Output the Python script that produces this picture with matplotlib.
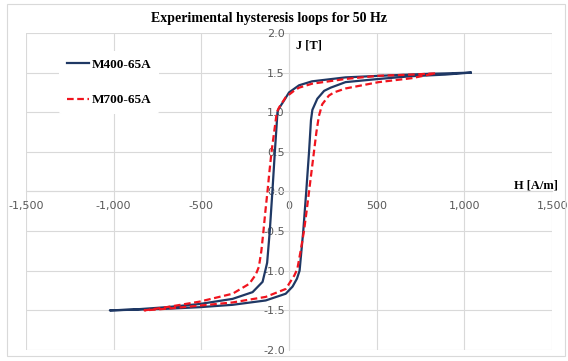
import matplotlib.pyplot as plt
from matplotlib.patches import Rectangle

# M400-65A loop: upper branch (from +tip down) then lower branch (back up)
h_m400 = [1035, 890, 795, 520, 322, 131, 57, 0, -28, -47, -60, -66, -81, -95, -110,
          -125, -133, -151, -208, -322, -511, -700, -890, -1022,
          -700, -511, -322, -133, -19, 20, 45, 60, 81, 98, 114, 125, 133, 161, 200,
          237, 322, 511, 700, 890, 1035]
j_m400 = [1.50, 1.49, 1.485, 1.46, 1.44, 1.39, 1.34, 1.25, 1.15, 1.085, 1.04, 1.00,
          0.50, 0.00, -0.50, -0.90, -0.975, -1.14, -1.27, -1.355, -1.42, -1.46,
          -1.49, -1.50,
          -1.48, -1.46, -1.43, -1.375, -1.29, -1.20, -1.10, -1.00, -0.50, 0.00,
          0.50, 0.90, 1.03, 1.17, 1.27, 1.31, 1.38, 1.42, 1.455, 1.475, 1.50]

# M700-65A loop
h_m700 = [833, 700, 511, 322, 131, 57, 28, -19, -57, -70, -85, -100, -112, -123, -135,
          -146, -158, -172, -190, -227, -322, -511, -700, -824,
          -700, -511, -322, -133, -19, 10, 30, 47, 66, 85, 100, 114, 128, 142, 156,
          170, 189, 227, 256, 322, 511, 700, 833]
j_m700 = [1.49, 1.475, 1.46, 1.42, 1.36, 1.31, 1.27, 1.19, 1.06, 1.00, 0.75, 0.50,
          0.25, 0.00, -0.25, -0.50, -0.75, -0.95, -1.05, -1.165, -1.29, -1.39,
          -1.46, -1.50,
          -1.48, -1.44, -1.40, -1.33, -1.23, -1.13, -1.06, -0.98, -0.75, -0.50,
          -0.25, 0.00, 0.25, 0.50, 0.75, 0.95, 1.10, 1.21, 1.25, 1.30, 1.38, 1.43,
          1.49]

x_ticks = [-1500, -1000, -500, 0, 500, 1000, 1500]
x_labels = ['-1,500', '-1,000', '-500', '0', '500', '1,000', '1,500']
y_ticks = [-2.0, -1.5, -1.0, -0.5, 0.0, 0.5, 1.0, 1.5, 2.0]

grid_col = '#d9d9d9'
tick_col = '#595959'
serif = 'Liberation Serif'

fig = plt.figure(figsize=(5.68, 3.61), dpi=100)
fig.patches.append(Rectangle((0.013, 0.015), 0.982, 0.975, transform=fig.transFigure,
                             fill=False, edgecolor='#d9d9d9', linewidth=0.8))
ax = fig.add_axes([0.0458, 0.0305, 0.9262, 0.8781])

ax.plot(h_m400, j_m400, color='#1f3864', lw=1.6, label='M400-65A', zorder=3)
ax.plot(h_m700, j_m700, color='#f0141e', lw=1.6, ls=(0, (3, 1.6)), label='M700-65A', zorder=4)

ax.set_xlim(-1500, 1500)
ax.set_ylim(-2.0, 2.0)
ax.set_xticks(x_ticks)
ax.set_xticklabels(x_labels)
ax.set_yticks(y_ticks)
ax.set_yticklabels([f'{v:.1f}' for v in y_ticks])
ax.grid(True, color=grid_col, lw=0.8)
ax.set_axisbelow(True)

for s in ['top', 'right']:
    ax.spines[s].set_visible(False)
ax.spines['left'].set_position(('data', 0))
ax.spines['bottom'].set_position(('data', 0))
ax.spines['left'].set_color(grid_col)
ax.spines['bottom'].set_color(grid_col)
ax.tick_params(length=0, labelsize=8, labelcolor=tick_col)
ax.tick_params(axis='x', pad=7)
ax.tick_params(axis='y', pad=3)

ax.text(40, 1.84, 'J [T]', fontfamily=serif, fontweight='bold', fontsize=9, ha='left', va='center')
ax.text(1535, 0.08, 'H [A/m]', fontfamily=serif, fontweight='bold', fontsize=9, ha='right', va='center')

fig.text(0.474, 0.948, 'Experimental hysteresis loops for 50 Hz', fontfamily=serif,
         fontweight='bold', fontsize=10, ha='center', va='center')

leg = ax.legend(loc='upper left', bbox_to_anchor=(0.05, 0.965), frameon=True,
                facecolor='white', edgecolor='white', framealpha=1,
                prop={'family': serif, 'weight': 'bold', 'size': 9.5},
                handlelength=1.7, handletextpad=0.15, labelspacing=1.75, borderpad=0.6)
leg.get_frame().set_linewidth(0)

fig.savefig('out.png', dpi=100)
